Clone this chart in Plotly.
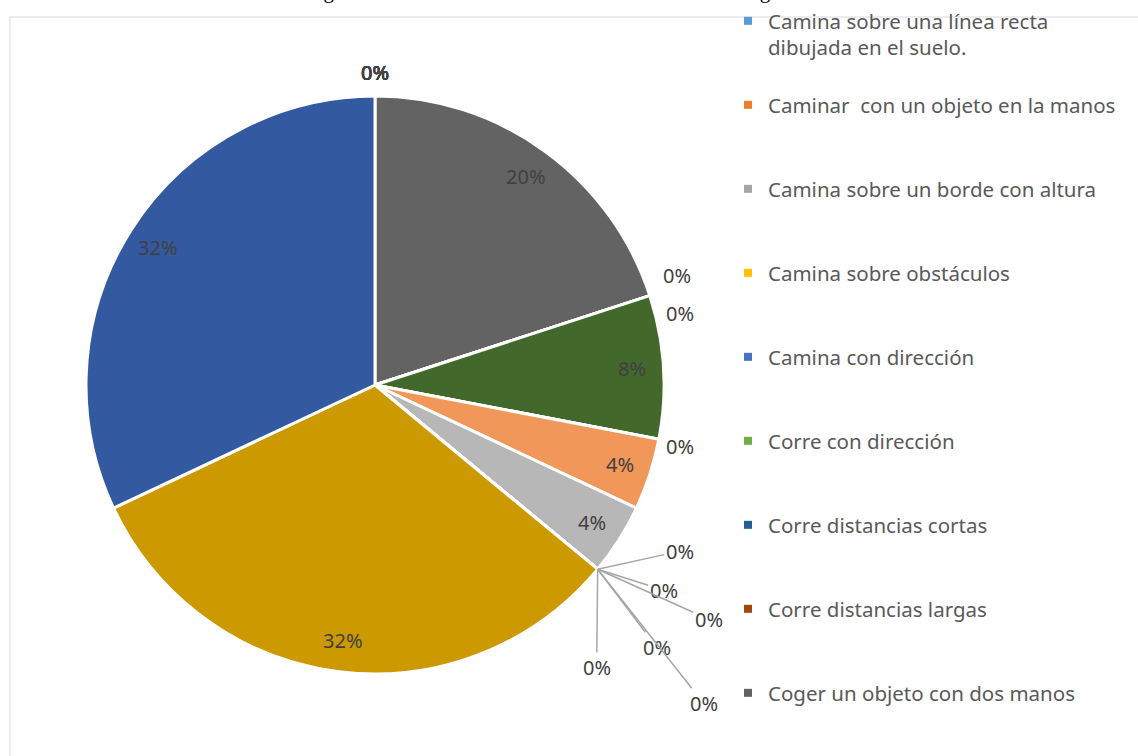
import math
import plotly.graph_objects as go

# ---------------- data ----------------
categories = [
    "Camina sobre una línea recta<br>dibujada en el suelo.",
    "Caminar  con un objeto en la manos",
    "Camina sobre un borde con altura",
    "Camina sobre obstáculos",
    "Camina con dirección",
    "Corre con dirección",
    "Corre distancias cortas",
    "Corre distancias largas",
    "Coger un objeto con dos manos",
    "Ítem 10", "Ítem 11", "Ítem 12", "Ítem 13", "Ítem 14", "Ítem 15",
    "Ítem 16", "Ítem 17", "Ítem 18", "Ítem 19", "Ítem 20", "Ítem 21",
    "Ítem 22", "Ítem 23",
]
counts = [0, 0, 0, 0, 0, 0, 0, 0, 5, 0, 0, 2, 0, 1, 1, 0, 0, 0, 0, 0, 0, 8, 8]
legend_count = 9  # only the first nine entries are visible in the legend

# ---------------- styles ----------------
colors = [
    "#5B9BD5", "#ED7D31", "#A5A5A5", "#FFC000", "#4472C4", "#70AD47",
    "#255E91", "#9E480E", "#636363", "#997300", "#264478", "#43682B",
    "#7CAFDD", "#F1975A", "#B7B7B7", "#FFCD33", "#698ED0", "#8CC168",
    "#497CAA", "#BE6427", "#848484", "#CC9A00", "#335AA0",
]
W, H = 1138, 756
CX, CY, R = 375, 385, 289          # pie centre / radius in pixels
FONT = "Noto Sans"
LABEL_COLOR = "#404040"
LEGEND_COLOR = "#595959"
LABEL_SIZE = 20
LEGEND_SIZE = 20.5

# pixel offsets for the labels of empty slices (label centre relative to slice edge point)
zero_offsets = [
    (0, -23, False), (0, -23, False), (0, -23, False), (0, -23, False),
    (0, -23, False), (0, -23, False), (0, -23, False), (0, -23, False),
    (27, -20, False), (30, 18, False),
    (21, 7, False),
    (82, -18, True), (66, 21, True), (111, 50, True), (59, 78, True),
    (-1, 98, True), (106, 134, True),
]
legend_first_line_px = [21 + 84 * i for i in range(legend_count)]


def px_x(px):
    return px / W


def px_y(py):
    return 1 - py / H


fig = go.Figure()

fig.add_trace(go.Pie(
    labels=categories,
    values=counts,
    sort=False,
    direction="clockwise",
    rotation=0,
    marker=dict(colors=colors, line=dict(color="white", width=3)),
    textinfo="none",
    showlegend=False,
    hoverinfo="label+percent",
    domain=dict(x=[px_x(CX - R), px_x(CX + R)], y=[px_y(CY + R), px_y(CY - R)]),
))

# ---------------- labels ----------------
total = sum(counts)
annotations = []
cum = 0.0
zi = 0
for name, v in zip(categories, counts):
    start = cum / total * 360
    cum += v
    end = cum / total * 360
    pct = f"{round(v / total * 100)}%"
    if v > 0:
        mid = math.radians((start + end) / 2)
        rr = 0.89 * R
        lx = CX + rr * math.sin(mid)
        ly = CY - rr * math.cos(mid)
        annotations.append(dict(
            x=px_x(lx), y=px_y(ly), xref="paper", yref="paper",
            xanchor="center", yanchor="middle",
            text=pct, showarrow=False,
            font=dict(family=FONT, size=LABEL_SIZE, color=LABEL_COLOR),
        ))
    else:
        ang = math.radians(start)
        ex = CX + R * math.sin(ang)
        ey = CY - R * math.cos(ang)
        dx, dy, arrow = zero_offsets[zi]
        zi += 1
        if arrow:
            annotations.append(dict(
                x=px_x(ex), y=px_y(ey), xref="paper", yref="paper",
                text=pct, showarrow=True, arrowhead=0, arrowwidth=1.5,
                arrowcolor="#A6A6A6", ax=dx, ay=dy, standoff=0,
                font=dict(family=FONT, size=LABEL_SIZE, color=LABEL_COLOR),
            ))
        else:
            annotations.append(dict(
                x=px_x(ex + dx), y=px_y(ey + dy), xref="paper", yref="paper",
                xanchor="center", yanchor="middle",
                text=pct, showarrow=False,
                font=dict(family=FONT, size=LABEL_SIZE, color=LABEL_COLOR),
            ))

# cut-off caption at the very top (only its lower edge is visible, as in the source)
annotations.append(dict(
    x=px_x(560), y=1, xref="paper", yref="paper", yanchor="bottom",
    xanchor="center", yshift=-5, showarrow=False,
    text="Figura 3. Resultado de la evaluación de la motricidad gruesa",
    font=dict(family="Liberation Serif", size=21, color="black"),
))

# ---------------- legend (one legend per visible entry) ----------------
legend_layout = {}
for i in range(legend_count):
    key = "legend" if i == 0 else f"legend{i + 1}"
    fig.add_trace(go.Scatter(
        x=[None], y=[None], mode="markers", name=categories[i],
        marker=dict(symbol="square", size=8, color=colors[i]),
        legend=key, showlegend=True, hoverinfo="skip",
    ))
    legend_layout[key] = dict(
        x=px_x(728), xanchor="left",
        y=px_y(legend_first_line_px[i] - 20), yanchor="top",
        valign="top", bgcolor="rgba(0,0,0,0)", borderwidth=0,
        font=dict(family=FONT, size=LEGEND_SIZE, color=LEGEND_COLOR),
        itemclick=False, itemdoubleclick=False,
    )

fig.update_layout(
    width=W, height=H, autosize=False,
    margin=dict(l=0, r=0, t=0, b=0),
    paper_bgcolor="white", plot_bgcolor="white",
    xaxis=dict(visible=False), yaxis=dict(visible=False),
    annotations=annotations,
    shapes=[dict(
        type="rect", xref="paper", yref="paper",
        x0=px_x(10), x1=1.02, y0=-0.02, y1=px_y(17),
        line=dict(color="#D9D9D9", width=1), layer="below",
    )],
    **legend_layout,
)

fig.write_html(
    "out.html",
    config={"displayModeBar": False},
    post_script="document.body.style.margin='0';document.body.style.overflow='hidden';",
)
